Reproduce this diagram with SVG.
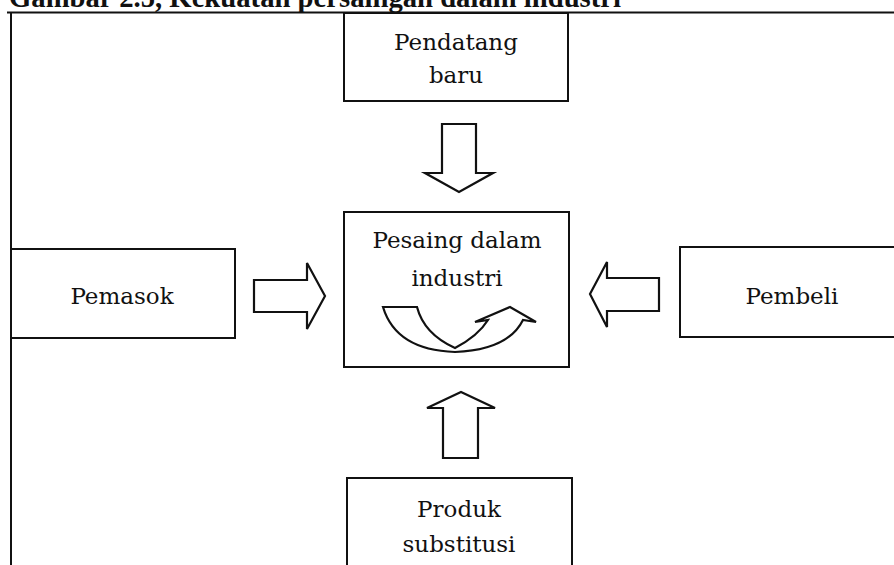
<svg xmlns="http://www.w3.org/2000/svg" width="894" height="565" viewBox="0 0 894 565">
<style>
.box{fill:#fff;stroke:#111;stroke-width:2}
.arr{fill:#fff;stroke:#111;stroke-width:2.2;stroke-linejoin:miter}
.lbl{font-family:"DejaVu Serif",serif;font-size:23px;fill:#111;text-anchor:middle}
.title{font-family:"Liberation Serif",serif;font-size:29px;font-weight:bold;fill:#111}
.frame{stroke:#111;stroke-width:2;fill:none}
</style>
<rect width="894" height="565" fill="#fff"/>
<text class="title" x="9" y="7" textLength="612" lengthAdjust="spacingAndGlyphs">Gambar 2.5, Kekuatan persaingan dalam industri</text>
<g id="frame">
<path class="frame" d="M7,12.5 L894,12.5 M11,12.5 L11,565"/>
</g>
<g id="pendatang">
<rect class="box" x="344" y="13" width="224" height="88"/>
<text class="lbl" x="456" y="50">Pendatang</text>
<text class="lbl" x="456" y="83">baru</text>
</g>
<g id="pesaing">
<rect class="box" x="344" y="212" width="225" height="155"/>
<text class="lbl" x="457" y="248">Pesaing dalam</text>
<text class="lbl" x="457" y="286">industri</text>
<path class="arr" d="M383,307 L417,307 Q424,334 455,348 Q478,336 488,320 L475,322 L510,307 L536,322 L523,320 Q508,350 455,352 Q396,350 383,307 Z"/>
</g>
<g id="pemasok">
<rect class="box" x="11" y="249" width="224" height="89"/>
<text class="lbl" x="122" y="304">Pemasok</text>
</g>
<g id="pembeli">
<rect class="box" x="680" y="247" width="230" height="90"/>
<text class="lbl" x="792" y="304">Pembeli</text>
</g>
<g id="produk">
<rect class="box" x="347" y="478" width="225" height="100"/>
<text class="lbl" x="459" y="517">Produk</text>
<text class="lbl" x="459" y="552">substitusi</text>
</g>
<g id="connectors">
<path class="arr" d="M442,124 L476,124 L476,173 L493,173 L459,192 L425,173 L442,173 Z"/>
<path class="arr" d="M443,458 L478,458 L478,408 L495,408 L461,392 L427,408 L443,408 Z"/>
<path class="arr" d="M254,280 L307,280 L307,263 L325,296 L307,329 L307,312 L254,312 Z"/>
<path class="arr" d="M659,278 L607,278 L607,262 L590,294 L607,327 L607,311 L659,311 Z"/>
</g>
</svg>
